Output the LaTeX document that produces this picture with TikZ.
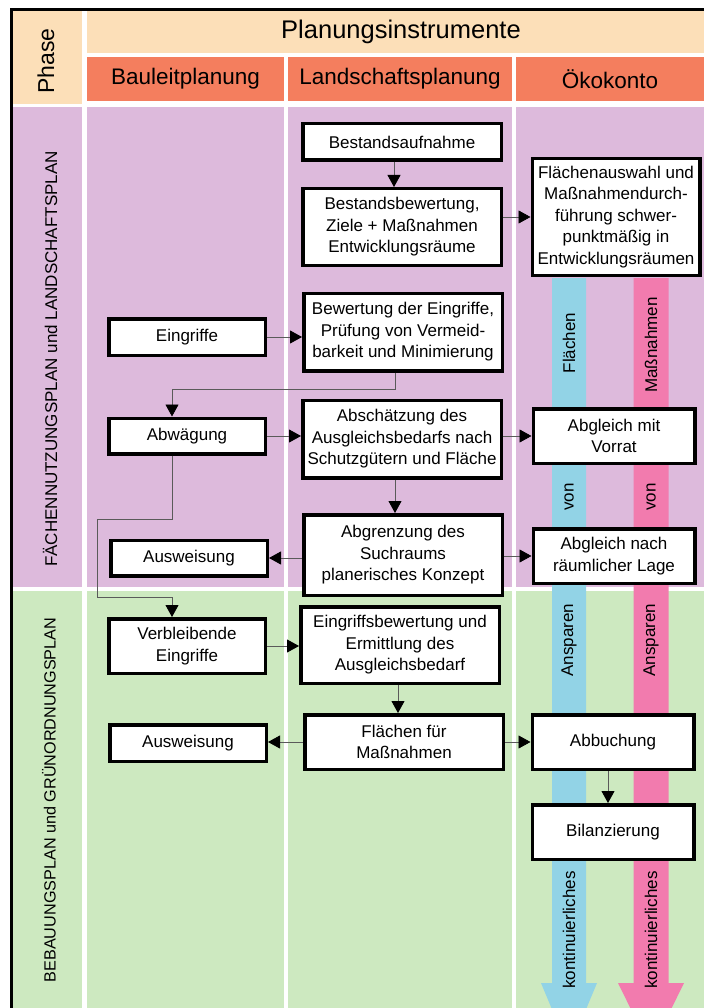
\documentclass[tikz,border=0pt]{standalone}
\usepackage{fontspec}
\setmainfont{Liberation Sans}
\usepackage{xcolor}
\usepackage{tikz}
\usetikzlibrary{arrows.meta, calc}
\definecolor{phasepeach}{RGB}{252, 223, 184}
\definecolor{headorange}{RGB}{244, 126, 94}
\definecolor{fnplilac}{RGB}{221, 186, 220}
\definecolor{bplgreen}{RGB}{205, 233, 192}
\definecolor{flaechenblue}{RGB}{146, 211, 230}
\definecolor{massnpink}{RGB}{242, 123, 174}
\definecolor{linegray}{RGB}{90, 90, 90}
\tikzstyle{planbox} = [draw=black, fill=white, line width=3.5pt, align=center, inner sep=2pt, font=\fontsize{17}{21.5}\selectfont]
\tikzstyle{lsbox} = [planbox, minimum width=198.5pt]
\tikzstyle{blbox} = [planbox, minimum width=156.5pt]
\tikzstyle{okbox} = [planbox, minimum width=161.5pt]
\tikzstyle{arrow} = [-{Triangle[length=12pt, width=13pt, color=black]}, draw=linegray, line width=0.8pt]
\tikzstyle{bandlabel} = [rotate=90, inner sep=0pt, font=\fontsize{17}{20}\selectfont]
\tikzstyle{phaselabel} = [rotate=90, inner sep=0pt, font=\fontsize{17}{20}\selectfont]

\begin{document}
\begin{tikzpicture}[x=1pt, y=-1pt]
    \clip (0,0) rectangle (704,1008);
    \fill[white] (0,0) rectangle (704,1008);

    % Header cells
    \fill[phasepeach] (13,11) rectangle (82,104);
    \fill[phasepeach] (87,11) rectangle (704,53);
    \fill[headorange] (87,57) rectangle (284,101);
    \fill[headorange] (288,57) rectangle (512,101);
    \fill[headorange] (516,57) rectangle (704,101);

    % Phase rows
    \foreach \ya/\yb/\col in {107/587/fnplilac, 591/1008/bplgreen} {
        \fill[\col] (13,\ya) rectangle (82,\yb);
        \fill[\col] (87,\ya) rectangle (284,\yb);
        \fill[\col] (288,\ya) rectangle (512,\yb);
        \fill[\col] (516,\ya) rectangle (704,\yb);
    }

    % Frame
    \draw[line width=3pt] (11.5,1008) -- (11.5,9.5) -- (704,9.5);

    % Header texts
    \node[rotate=90, font=\fontsize{23}{26}\selectfont] (phase) at (46,61) {Phase};
    \node[font=\fontsize{25.5}{28}\selectfont] (instr) at (401,32) {Planungsinstrumente};
    \node[font=\fontsize{22.5}{26}\selectfont] (blp) at (185.5,79) {Bauleitplanung};
    \node[font=\fontsize{22.5}{26}\selectfont] (lsp) at (400,79) {Landschaftsplanung};
    \node[font=\fontsize{22.5}{26}\selectfont] (oko) at (610,79) {Ökokonto};

    \node[phaselabel] (fnp) at (50,359) {FÄCHENNUTZUNGSPLAN und LANDSCHAFTSPLAN};
    \node[phaselabel, font=\fontsize{16.2}{19}\selectfont] (bpl) at (49,800) {BEBAUUNGSPLAN und GRÜNORDNUNGSPLAN};

    % Flow bands
    \foreach \xc/\hs/\hh/\col in {569/17/28/flaechenblue, 651/17.5/33/massnpink}
        \fill[\col] (\xc-\hs,278) -- (\xc+\hs,278) -- (\xc+\hs,983) -- (\xc+\hh,983)
            -- (\xc,1050) -- (\xc-\hh,983) -- (\xc-\hs,983) -- cycle;

    \node[bandlabel] (flLab) at (569,343) {Flächen};
    \node[bandlabel] (mnLab) at (651,345) {Maßnahmen};
    \node[bandlabel] (vonFl) at (569,497) {von};
    \node[bandlabel] (vonMn) at (651,497) {von};
    \node[bandlabel] (anspFl) at (569,640) {Ansparen};
    \node[bandlabel] (anspMn) at (651,640) {Ansparen};
    \node[bandlabel] (kontFl) at (569,930) {kontinuierliches};
    \node[bandlabel] (kontMn) at (651,930) {kontinuierliches};

    % Landschaftsplanung
    \node[lsbox, minimum height=36.5pt] (best) at (402,142) {Bestandsaufnahme};
    \node[lsbox, minimum height=76.5pt] (bbew) at (402,227) {Bestandsbewertung,\\Ziele + Maßnahmen\\Entwicklungsräume};
    \node[lsbox, minimum height=77.5pt] (bew) at (403,332) {Bewertung der Eingriffe,\\Prüfung von Vermeid-\\barkeit und Minimierung};
    \node[lsbox, minimum height=77.5pt] (absch) at (402,439) {Abschätzung des\\Ausgleichsbedarfs nach\\Schutzgütern und Fläche};
    \node[lsbox, minimum height=80.5pt] (abgr) at (403,555) {Abgrenzung des\\Suchraums\\planerisches Konzept};
    \node[lsbox, minimum height=76.5pt] (eingb) at (400,645) {Eingriffsbewertung und\\Ermittlung des\\Ausgleichsbedarf};
    \node[lsbox, minimum height=54.5pt] (flm) at (404,742) {Flächen für\\Maßnahmen};

    % Bauleitplanung
    \node[blbox, minimum height=36.5pt] (eing) at (187,337) {Eingriffe};
    \node[blbox, minimum height=35.5pt] (abw) at (187,436) {Abwägung};
    \node[blbox, minimum height=35.5pt] (ausw1) at (189,558) {Ausweisung};
    \node[blbox, minimum height=54.5pt] (verbl) at (187,646) {Verbleibende\\Eingriffe};
    \node[blbox, minimum height=36.5pt] (ausw2) at (188,743) {Ausweisung};

    % Oekokonto
    \node[okbox, minimum width=167.5pt, minimum height=116.5pt] (flaus) at (616,217) {Flächenauswahl und\\Maßnahmendurch-\\führung schwer-\\punktmäßig in\\Entwicklungsräumen};
    \node[okbox, minimum height=54.5pt] (vorrat) at (614,436) {Abgleich mit\\Vorrat};
    \node[okbox, minimum height=54.5pt] (lage) at (614,556) {Abgleich nach\\räumlicher Lage};
    \node[okbox, minimum height=54.5pt] (abb) at (613,742) {Abbuchung};
    \node[okbox, minimum height=54.5pt] (bil) at (613,832) {Bilanzierung};

    % Connectors
    \draw[arrow] ([xshift=-8pt]best.south) -- ([xshift=-8pt]best.south |- bbew.north);
    \draw[arrow] (bbew.east |- flaus.west) -- (flaus.west);
    \draw[arrow] (eing.east) -- (eing.east -| bew.west);
    \draw[arrow] ([xshift=-8pt]bew.south) -- ++(0,17) -| ([xshift=-15pt]abw.north);
    \draw[arrow] (abw.east) -- (abw.east -| absch.west);
    \draw[arrow] ([xshift=-15pt]abw.south) -- ++(0,64) -- ++(-75,0) -- ++(0,78) -| ([xshift=-15pt]verbl.north);
    \draw[arrow] (absch.east |- vorrat.west) -- (vorrat.west);
    \draw[arrow] ([xshift=-7pt]absch.south) -- ([xshift=-7pt]absch.south |- abgr.north);
    \draw[arrow] (abgr.west |- ausw1.east) -- (ausw1.east);
    \draw[arrow] (abgr.east |- lage.west) -- (lage.west);
    \draw[arrow] (verbl.east) -- (verbl.east -| eingb.west);
    \draw[arrow] ([xshift=-2pt]eingb.south) -- ([xshift=-2pt]eingb.south |- flm.north);
    \draw[arrow] (flm.west) -- (flm.west -| ausw2.east);
    \draw[arrow] (flm.east) -- (flm.east -| abb.west);
    \draw[arrow] ([xshift=-5pt]abb.south) -- ([xshift=-5pt]abb.south |- bil.north);
\end{tikzpicture}
\end{document}
